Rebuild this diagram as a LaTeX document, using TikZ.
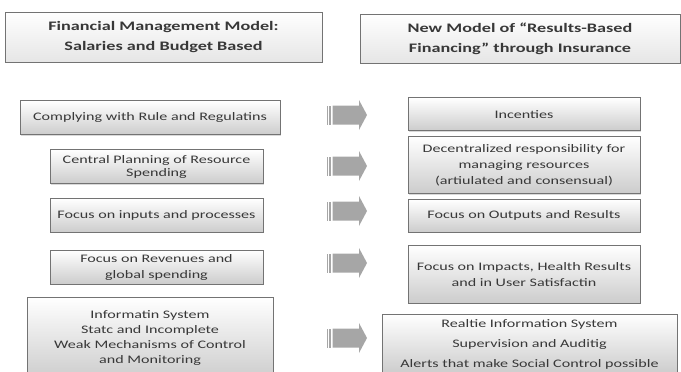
\documentclass[tikz,border=0pt]{standalone}
\usepackage{fontspec}
\setmainfont{Carlito}[FakeStretch=1.4]
\usepackage{tikz}
\usetikzlibrary{positioning, shadows, calc}

\tikzset{
  box/.style={draw=black!55, line width=0.8pt, top color=white, bottom color=black!20,
    align=center, inner sep=2pt, text=black!78,
    font=\fontsize{11.5}{16}\selectfont,
    drop shadow={shadow xshift=1pt, shadow yshift=-1pt, opacity=0.3}},
  headbox/.style={box, font=\bfseries\fontsize{13}{20}\selectfont, top color=white, bottom color=black!10},
  striparrow/.pic={
    \fill[black!35] (-20,-9.5) rectangle (-18.8,9.5);
    \fill[black!35] (-17.6,-9.5) rectangle (-15.6,9.5);
    \fill[black!35] (-14.4,-9.5) -- (12,-9.5) -- (12,-15) -- (20,0) -- (12,15) -- (12,9.5) -- (-14.4,9.5) -- cycle;
  }
}

\begin{document}
\begin{tikzpicture}[x=1pt, y=1pt]

  \clip (0,0) rectangle (681,-372);

  % Headers
  \node[headbox, minimum width=317pt, minimum height=50pt] (lhead) at (163.5,-37)
    {Financial Management Model:\\Salaries and Budget Based};
  \node[headbox, minimum width=320pt, minimum height=49pt] (rhead) at (520,-38.5)
    {New Model of “Results-Based\\Financing” through Insurance};

  % Old model
  \node[box, below=38pt of lhead, xshift=-13.5pt, minimum width=260pt, minimum height=34pt] (L1)
    {Complying with Rule and Regulatins};
  \node[box, below=14pt of L1, xshift=6.5pt, minimum width=213pt, minimum height=34pt,
    font=\fontsize{11.5}{13}\selectfont] (L2)
    {Central Planning of Resource\\Spending};
  \node[box, below=14pt of L2, minimum width=213pt, minimum height=34pt] (L3)
    {Focus on inputs and processes};
  \node[box, below=17pt of L3, minimum width=213pt, minimum height=34pt] (L4)
    {Focus on Revenues and\\global spending};
  \node[box, below=12pt of L4, xshift=-6.5pt, minimum width=246pt, minimum height=83pt,
    font=\fontsize{11.5}{15}\selectfont] (L5)
    {Informatin System\\Statc and Incomplete\\Weak Mechanisms of Control\\and Monitoring};

  % New model
  \node[box, below=34pt of rhead, xshift=4pt, minimum width=232pt, minimum height=33pt] (R1)
    {Incenties};
  \node[box, below=5pt of R1, minimum width=232pt, minimum height=57pt] (R2)
    {Decentralized responsibility for\\managing resources\\(artiulated and consensual)};
  \node[box, below=5pt of R2, minimum width=232pt, minimum height=33pt] (R3)
    {Focus on Outputs and Results};
  \node[box, below=12pt of R3, minimum width=232pt, minimum height=58pt] (R4)
    {Focus on Impacts, Health Results\\and in User Satisfactin};
  \node[box, below=10pt of R4, xshift=5.5pt, minimum width=295pt, minimum height=60pt,
    font=\fontsize{11.5}{20}\selectfont] (R5)
    {Realtie Information System\\Supervision and Auditig\\Alerts that make Social Control possible};

  % Arrows
  \foreach \y [count=\k] in {115,166,211,263,338}
    \pic (arr\k) at (347,-\y) {striparrow};

\end{tikzpicture}
\end{document}
